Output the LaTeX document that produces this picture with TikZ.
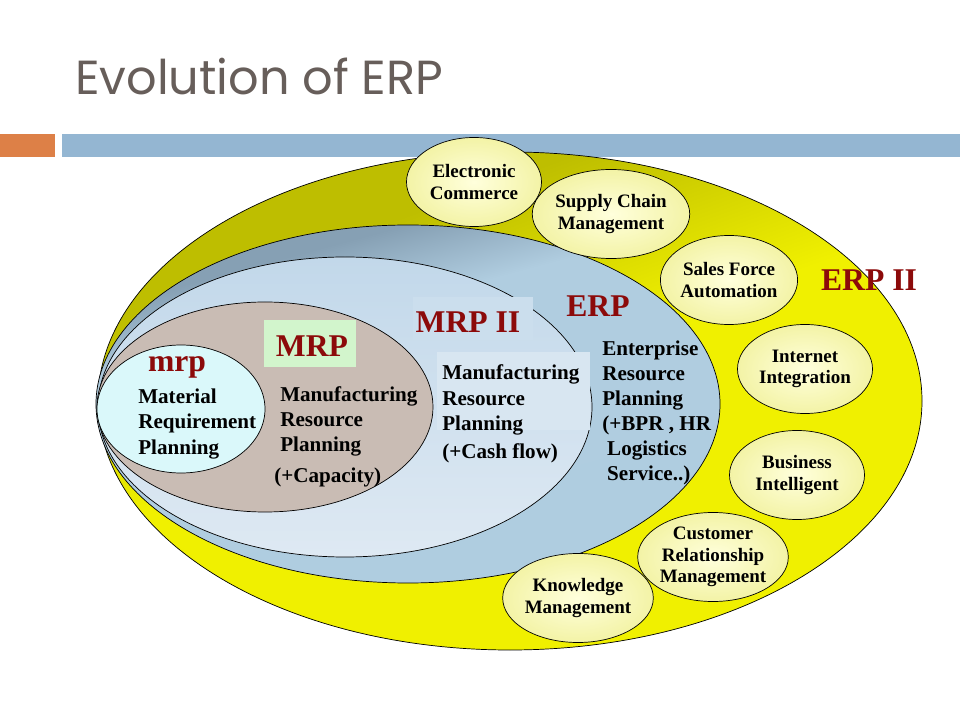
\documentclass[tikz,border=0pt]{standalone}
\usepackage{fontspec}
\usetikzlibrary{shapes.geometric}
\setmainfont{Liberation Serif}
\newfontfamily\titlefont{Poppins}
\definecolor{titlegray}{HTML}{675E5A}
\definecolor{barorange}{HTML}{DD8047}
\definecolor{barblue}{HTML}{94B6D2}
\definecolor{labelred}{HTML}{8C0A0A}
\definecolor{olivetop}{HTML}{BEBE00}
\definecolor{yellowlow}{HTML}{F0F000}
\definecolor{erptop}{HTML}{86A0B4}
\definecolor{erpmid}{HTML}{B0CDE0}
\definecolor{erplow}{HTML}{AECCE0}
\definecolor{mrpiitop}{HTML}{C2D8EA}
\definecolor{mrpiimid}{HTML}{D8E6F1}
\definecolor{mrpiilow}{HTML}{DEE9F3}
\definecolor{mrptaupe}{HTML}{C9BCB4}
\definecolor{mrpcyan}{HTML}{DAF8FA}
\definecolor{tagbox}{HTML}{D2F5CC}
\definecolor{modin}{HTML}{FFFFDC}
\definecolor{modout}{HTML}{F3F3A6}
\pgfdeclareverticalshading{erpiiyellow}{100bp}{color(0bp)=(yellowlow); color(52bp)=(yellowlow); color(68bp)=(olivetop); color(100bp)=(olivetop)}
\pgfdeclareverticalshading{erpblue}{100bp}{color(0bp)=(erplow); color(50bp)=(erpmid); color(62bp)=(erpmid); color(71bp)=(erptop); color(100bp)=(erptop)}

\begin{document}
\begin{tikzpicture}[
  x=0.025cm, y=-0.025cm,
  ring/.style={draw=black, line width=0.5pt},
  tag/.style={font=\fontsize{22.5}{26}\selectfont\bfseries, text=labelred, inner sep=0pt, anchor=base},
  body/.style={font=\fontsize{15}{17.9}\selectfont\bfseries, align=left, inner sep=0pt, anchor=west},
  module/.style={ellipse, draw=black, line width=0.5pt, inner color=modin, outer color=modout,
    minimum width=3.375cm, minimum height=2.225cm, inner sep=0pt, align=center,
    font=\fontsize{13.5}{15.3}\selectfont\bfseries}
]
  \useasboundingbox[fill=white] (0,0) rectangle (960,720);

  \node[font=\titlefont\fontsize{34}{40}\selectfont, text=titlegray, anchor=base west, inner sep=0pt] (title) at (75,95) {Evolution of ERP};
  \fill[barorange] (0,134) rectangle (55,157);
  \fill[barblue] (62,134) rectangle (960,157);

  % nested stages
  \draw[ring, shade, shading=erpiiyellow, shading angle=20] (510,401) ellipse [x radius=412, y radius=249];
  \draw[ring, shade, shading=erpblue, shading angle=15] (408,404) ellipse [x radius=312, y radius=179];
  \draw[ring, top color=mrpiitop, middle color=mrpiimid, bottom color=mrpiilow] (345,407) ellipse [x radius=247, y radius=150];
  \fill[mrpiimid!40!mrpiitop] (413,297) rectangle (533,340);
  \fill[mrpiimid] (437,352) rectangle (590,430);
  \draw[ring, fill=mrptaupe] (265,407) ellipse [x radius=168, y radius=105];
  \draw[ring, fill=mrpcyan] (181,409) ellipse [x radius=84, y radius=64];
  \fill[tagbox] (264,320) rectangle (356,367);

  \node[tag] (mrp) at (177,372) {mrp};
  \node[body] (mrptext) at (138,424) {Material\\Requirement\\Planning};
  \node[tag] (mrpcap) at (312,357) {MRP};
  \node[body] (mrpcaptext) at (280,421.5) {Manufacturing\\Resource\\Planning};
  \node[body] (capacity) at (274,477) {(+Capacity)};
  \node[tag] (mrpii) at (468,333) {MRP II};
  \node[body] (mrpiitext) at (442,400) {Manufacturing\\Resource\\Planning};
  \node[body] (cashflow) at (442,453) {(+Cash flow)};
  \node[tag] (erp) at (598,317) {ERP};
  \node[body] (erptext) at (602,413) {Enterprise\\Resource\\Planning\\(+BPR , HR\\\hspace{3.5pt}Logistics\\\hspace{3.5pt}Service..)};
  \node[tag] (erpii) at (869,291) {ERP II};

  % ERP II modules
  \node[module] (ecom) at (474,182) {Electronic\\Commerce};
  \node[module] (scm) at (611,214) {Supply Chain\\Management};
  \node[module] (sfa) at (729,280) {Sales Force\\Automation};
  \node[module] (inet) at (805,369) {Internet\\Integration};
  \node[module] (bi) at (797,475) {Business\\Intelligent};
  \node[module] (crm) at (713,557) {Customer\\Relationship\\Management};
  \node[module] (km) at (578,598) {Knowledge\\Management};
\end{tikzpicture}
\end{document}
